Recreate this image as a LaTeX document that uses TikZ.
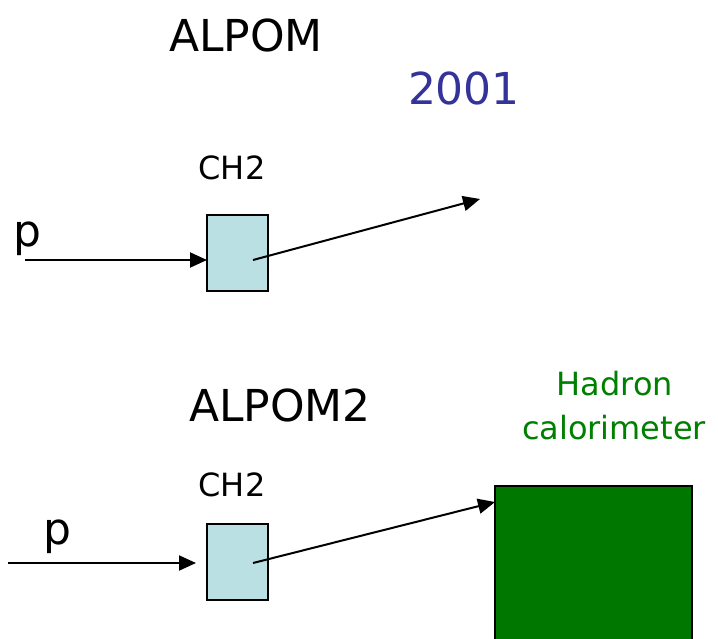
\documentclass[tikz,border=0pt]{standalone}
\usepackage{fontspec}
\setmainfont{DejaVu Sans}
\usetikzlibrary{arrows.meta}
\definecolor{boxblue}{HTML}{BBE0E3}
\definecolor{calgreen}{HTML}{007800}
\definecolor{txtgreen}{HTML}{008000}
\definecolor{yearblue}{HTML}{333399}
\begin{document}
\begin{tikzpicture}[x=1pt,y=-1pt,
  lbl/.style={inner sep=0pt,anchor=center},
  target/.style={draw=black,line width=2pt,fill=boxblue,minimum width=61pt,minimum height=76pt,inner sep=0pt},
  beam/.style={line width=2pt,-{Triangle[length=17pt,width=15pt]}}]
\useasboundingbox (0,0) rectangle (718,638);
% top
\node[lbl,font=\fontsize{44}{48}\selectfont] (t1) at (246,35) {ALPOM};
\node[lbl,font=\fontsize{44}{48}\selectfont,text=yearblue] (yr) at (464,88) {2001};
\node[lbl,font=\fontsize{32}{35}\selectfont] (ch1) at (232,168) {CH2};
\node[lbl,font=\fontsize{44}{48}\selectfont,anchor=base] (p1) at (27,246) {p};
\node[target] (b1) at (237.5,252.5) {};
\coordinate (s1) at (25,260);
\coordinate (e1w) at (207,260);
\coordinate (o1) at (253,260);
\coordinate (f1) at (480,199);
\draw[beam] (s1) -- (e1w);
\draw[beam] (o1) -- (f1);
% bottom
\node[lbl,font=\fontsize{44}{48}\selectfont] (t2) at (280,405) {ALPOM2};
\node[lbl,font=\fontsize{32}{35}\selectfont,text=txtgreen] (h1) at (615,384) {Hadron};
\node[lbl,font=\fontsize{32}{35}\selectfont,text=txtgreen] (h2) at (614,428) {calorimeter};
\node[lbl,font=\fontsize{32}{35}\selectfont] (ch2) at (232,485) {CH2};
\node[lbl,font=\fontsize{44}{48}\selectfont,anchor=base] (p2) at (57,544) {p};
\node[target] (b2) at (237.5,562) {};
\node[draw=black,line width=1.5pt,fill=calgreen,minimum width=197pt,minimum height=154pt,inner sep=0pt] (cal) at (593.5,563) {};
\coordinate (s2) at (8,563);
\coordinate (e2w) at (196,563);
\coordinate (o2) at (253,563);
\coordinate (f2) at (495,502);
\draw[beam] (s2) -- (e2w);
\draw[beam] (o2) -- (f2);
\end{tikzpicture}
\end{document}
